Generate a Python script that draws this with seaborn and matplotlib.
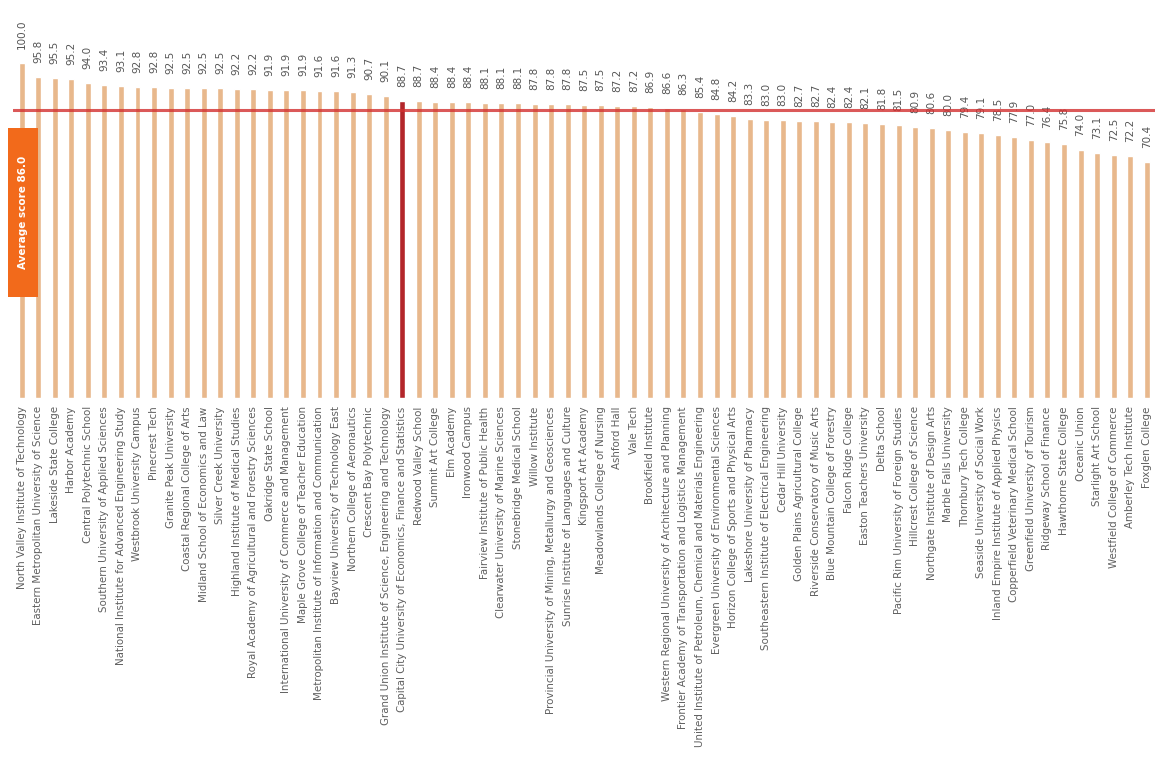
import matplotlib
matplotlib.use("Agg")
import matplotlib.pyplot as plt
import seaborn as sns
import pandas as pd
from matplotlib.patches import Rectangle

categories = [
    "North Valley Institute of Technology",
    "Eastern Metropolitan University of Science",
    "Lakeside State College",
    "Harbor Academy",
    "Central Polytechnic School",
    "Southern University of Applied Sciences",
    "National Institute for Advanced Engineering Study",
    "Westbrook University Campus",
    "Pinecrest Tech",
    "Granite Peak University",
    "Coastal Regional College of Arts",
    "Midland School of Economics and Law",
    "Silver Creek University",
    "Highland Institute of Medical Studies",
    "Royal Academy of Agricultural and Forestry Sciences",
    "Oakridge State School",
    "International University of Commerce and Management",
    "Maple Grove College of Teacher Education",
    "Metropolitan Institute of Information and Communication",
    "Bayview University of Technology East",
    "Northern College of Aeronautics",
    "Crescent Bay Polytechnic",
    "Grand Union Institute of Science, Engineering and Technology",
    "Capital City University of Economics, Finance and Statistics",
    "Redwood Valley School",
    "Summit Art College",
    "Elm Academy",
    "Ironwood Campus",
    "Fairview Institute of Public Health",
    "Clearwater University of Marine Sciences",
    "Stonebridge Medical School",
    "Willow Institute",
    "Provincial University of Mining, Metallurgy and Geosciences",
    "Sunrise Institute of Languages and Culture",
    "Kingsport Art Academy",
    "Meadowlands College of Nursing",
    "Ashford Hall",
    "Vale Tech",
    "Brookfield Institute",
    "Western Regional University of Architecture and Planning",
    "Frontier Academy of Transportation and Logistics Management",
    "United Institute of Petroleum, Chemical and Materials Engineering",
    "Evergreen University of Environmental Sciences",
    "Horizon College of Sports and Physical Arts",
    "Lakeshore University of Pharmacy",
    "Southeastern Institute of Electrical Engineering",
    "Cedar Hill University",
    "Golden Plains Agricultural College",
    "Riverside Conservatory of Music Arts",
    "Blue Mountain College of Forestry",
    "Falcon Ridge College",
    "Easton Teachers University",
    "Delta School",
    "Pacific Rim University of Foreign Studies",
    "Hillcrest College of Science",
    "Northgate Institute of Design Arts",
    "Marble Falls University",
    "Thornbury Tech College",
    "Seaside University of Social Work",
    "Inland Empire Institute of Applied Physics",
    "Copperfield Veterinary Medical School",
    "Greenfield University of Tourism",
    "Ridgeway School of Finance",
    "Hawthorne State College",
    "Oceanic Union",
    "Starlight Art School",
    "Westfield College of Commerce",
    "Amberley Tech Institute",
    "Foxglen College",
]

values = [
    100.0, 95.8, 95.5, 95.2, 94.0, 93.4, 93.1, 92.8, 92.8, 92.5,
    92.5, 92.5, 92.5, 92.2, 92.2, 91.9, 91.9, 91.9, 91.6, 91.6,
    91.3, 90.7, 90.1, 88.7, 88.7, 88.4, 88.4, 88.4, 88.1, 88.1,
    88.1, 87.8, 87.8, 87.8, 87.5, 87.5, 87.2, 87.2, 86.9, 86.6,
    86.3, 85.4, 84.8, 84.2, 83.3, 83.0, 83.0, 82.7, 82.7, 82.4,
    82.4, 82.1, 81.8, 81.5, 80.9, 80.6, 80.0, 79.4, 79.1, 78.5,
    77.9, 77.0, 76.4, 75.8, 74.0, 73.1, 72.5, 72.2, 70.4,
]

highlight_category = "Capital City University of Economics, Finance and Statistics"
average_value = 86.0
average_label = "Average score 86.0"

bar_color = "#E8B88C"
highlight_color = "#B3262A"

df = pd.DataFrame({"category": categories, "value": values})
palette = {c: (highlight_color if c == highlight_category else bar_color) for c in categories}

sns.set_theme(style="white")
plt.rcParams["font.family"] = ["DejaVu Sans"]

fig = plt.figure(figsize=(11.55, 7.77), dpi=100)
ax = fig.add_axes([0.0116, 0.4878, 0.9884, 0.5122])

sns.barplot(data=df, x="category", y="value", hue="category", palette=palette,
            width=0.36, legend=False, ax=ax, saturation=1, zorder=2)

ax.set_xlim(-0.5, len(categories) - 0.5)
ax.set_ylim(0, 118.8)

for i, v in enumerate(values):
    ax.annotate(f"{v:.1f}", xy=(i, v), xytext=(0, 14), textcoords="offset pixels",
                rotation=90, ha="center", va="bottom", fontsize=7.5, color="#555555")

ax.axhline(average_value, color="#D32F2F", lw=2.2, alpha=0.8, zorder=3)

ax.set_xlabel("")
ax.set_ylabel("")
ax.set_yticks([])
ax.tick_params(axis="x", length=0, pad=6)
ax.set_xticks(range(len(categories)))
ax.set_xticklabels(categories, rotation=90, fontsize=7.4, color="#5f5f5f", va="top")
for s in ax.spines.values():
    s.set_visible(False)

fig.patches.append(Rectangle((8 / 1155, 1 - 297 / 777), 30 / 1155, 169 / 777,
                             transform=fig.transFigure, facecolor="#F26A1B",
                             edgecolor="none", zorder=5))
fig.text(23 / 1155, 1 - 212 / 777, average_label, rotation=90, ha="center", va="center",
         fontsize=7.5, color="white", fontweight="bold", zorder=6)

fig.savefig("out.png", dpi=100)
